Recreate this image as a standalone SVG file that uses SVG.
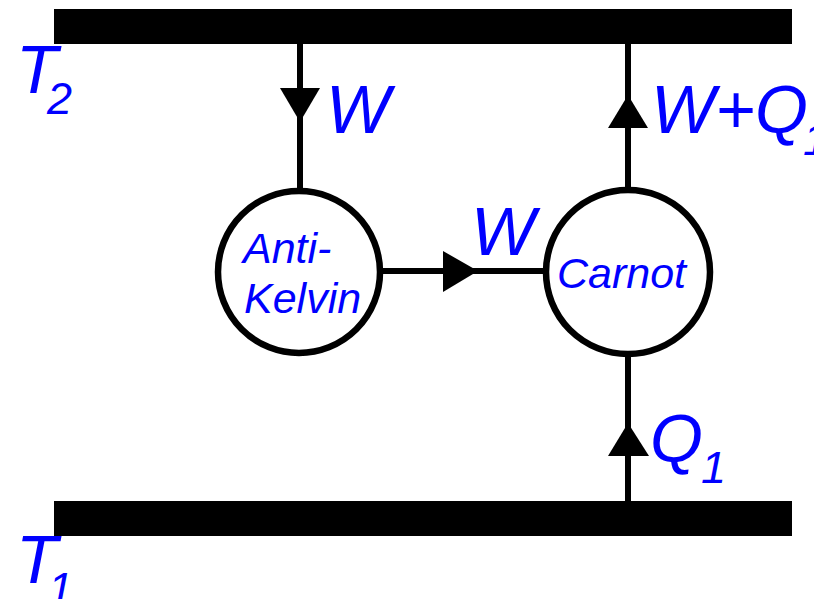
<svg xmlns="http://www.w3.org/2000/svg" width="814" height="599" viewBox="0 0 814 599">
  <style>
    .bar { fill: #000; }
    .ln { stroke: #000; stroke-width: 6; fill: none; }
    .node { stroke: #000; stroke-width: 6.5; fill: #fff; }
    .head { fill: #000; }
    .lbl { fill: #0000ff; font-family: "Liberation Sans", Arial, sans-serif; font-style: italic; }
    .big { font-size: 68px; }
    .sub { font-size: 45px; }
    .in { font-size: 43px; }
  </style>
  <g id="reservoir-T2">
    <rect class="bar" x="54" y="9" width="738" height="35"/>
    <text class="lbl big" x="16" y="93">T</text>
    <text class="lbl sub" x="47" y="114">2</text>
  </g>
  <g id="reservoir-T1">
    <rect class="bar" x="54" y="501" width="738" height="35"/>
    <text class="lbl big" x="16" y="583">T</text>
    <text class="lbl sub" x="48" y="604">1</text>
  </g>
  <g id="connectors">
    <line class="ln" x1="300" y1="44" x2="300" y2="190"/>
    <polygon class="head" points="280,88 320,88 300,122"/>
    <text class="lbl big" x="326" y="133">W</text>

    <line class="ln" x1="628" y1="44" x2="628" y2="190"/>
    <polygon class="head" points="608,128 648,128 628,95"/>
    <text class="lbl big" x="651" y="133">W+Q</text>
    <text class="lbl sub" x="803" y="155">1</text>

    <line class="ln" x1="383" y1="271" x2="545" y2="271"/>
    <polygon class="head" points="443,251 443,292 478,271"/>
    <text class="lbl big" x="471" y="255">W</text>

    <line class="ln" x1="628" y1="355" x2="628" y2="501"/>
    <polygon class="head" points="608,456 649,456 628,423"/>
    <text class="lbl big" x="650" y="462">Q</text>
    <text class="lbl sub" x="701" y="483">1</text>
  </g>
  <g id="anti-kelvin">
    <circle class="node" cx="299" cy="272" r="81"/>
    <text class="lbl in" x="243" y="263">Anti-</text>
    <text class="lbl in" x="244" y="313">Kelvin</text>
  </g>
  <g id="carnot">
    <circle class="node" cx="628" cy="272" r="82"/>
    <text class="lbl in" x="557" y="288">Carnot</text>
  </g>
</svg>
